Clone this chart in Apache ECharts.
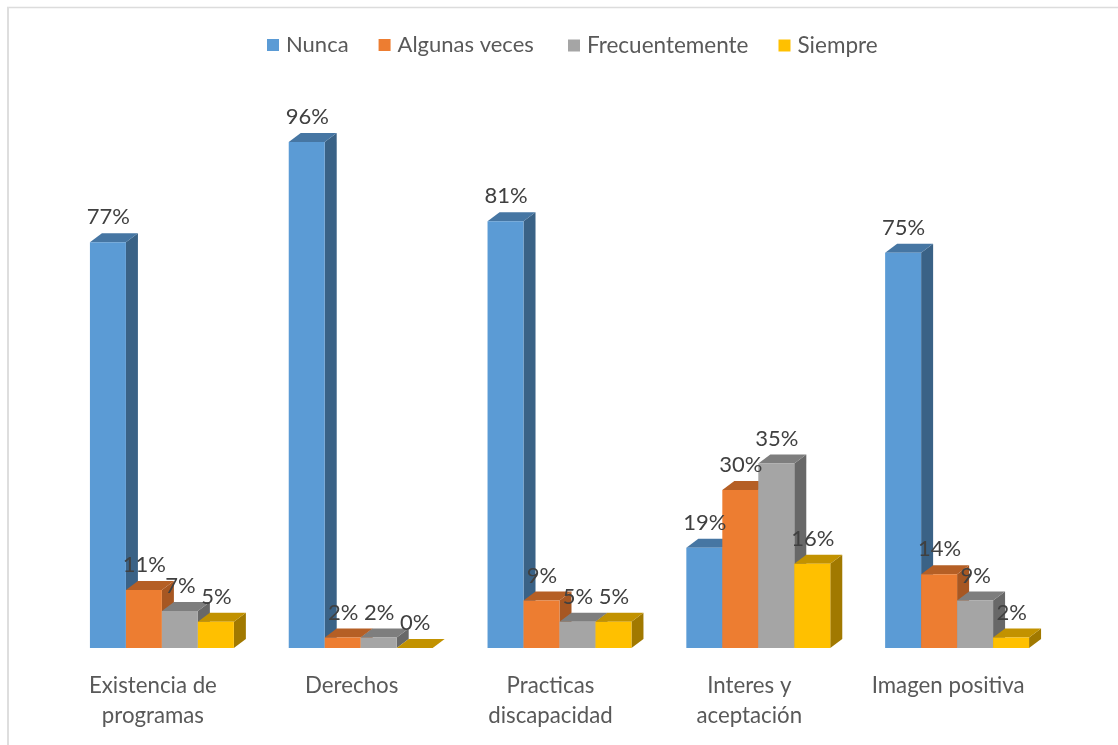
<!DOCTYPE html>
<html>
<head>
<meta charset="utf-8">
<title>Chart</title>
<style>
  html, body { margin: 0; padding: 0; background: #fff; }
  #chart { width: 1118px; height: 745px; }
</style>
<script src="https://cdn.jsdelivr.net/npm/echarts@6/dist/echarts.min.js"></script>
</head>
<body>
<div id="chart"></div>
<script>
// datos
const categories = ['Existencia de\nprogramas', 'Derechos', 'Practicas\ndiscapacidad', 'Interes y\naceptación', 'Imagen positiva']
const nunca = [77, 96, 81, 19, 75]
const algunasVeces = [11, 2, 9, 30, 14]
const frecuentemente = [7, 2, 5, 35, 9]
const siempre = [5, 0, 5, 16, 2]

const seriesNames = ['Nunca', 'Algunas veces', 'Frecuentemente', 'Siempre']
const seriesValues = [nunca, algunasVeces, frecuentemente, siempre]
// frente, tapa, lateral
const frontColors = ['#5B9BD5', '#ED7D31', '#A5A5A5', '#FFC000']
const topColors = ['#4676A3', '#B55F25', '#7E7E7E', '#C29200']
const sideColors = ['#3A6286', '#A75722', '#686868', '#A17900']

const FONT = 'Lato'
const DEPTH_X = 12
const DEPTH_Y = 9

// posicion de la barra dentro de la banda de la categoria
function barBox(api, seriesIndex) {
  const band = api.size([1, 0])[0]
  const barWidth = band * 0.181
  const base = api.coord([api.value(0), 0])
  const top = api.coord([api.value(0), api.value(1)])
  // el grupo va corrido 9px a la derecha de la etiqueta
  const left = base[0] - barWidth * 2 + 9 + barWidth * seriesIndex
  return { left, right: left + barWidth, width: barWidth, top: top[1], base: base[1] }
}

function renderBar(seriesIndex) {
  return function (params, api) {
    const b = barBox(api, seriesIndex)
    return {
      type: 'group',
      children: [
        {
          type: 'polygon',
          shape: { points: [[b.right, b.top], [b.right + DEPTH_X, b.top - DEPTH_Y], [b.right + DEPTH_X, b.base - DEPTH_Y], [b.right, b.base]] },
          style: { fill: sideColors[seriesIndex] }
        },
        {
          type: 'polygon',
          shape: { points: [[b.left, b.top], [b.left + DEPTH_X, b.top - DEPTH_Y], [b.right + DEPTH_X, b.top - DEPTH_Y], [b.right, b.top]] },
          style: { fill: topColors[seriesIndex] }
        },
        {
          type: 'rect',
          shape: { x: b.left, y: b.top, width: b.width, height: b.base - b.top },
          style: { fill: frontColors[seriesIndex] }
        }
      ]
    }
  }
}

// etiquetas en una serie aparte para que queden encima de todas las barras
function renderLabel(seriesIndex) {
  return function (params, api) {
    const b = barBox(api, seriesIndex)
    return {
      type: 'text',
      style: {
        text: api.value(1) + '%',
        x: (b.left + b.right) / 2 + 0.5,
        y: b.top - 25,
        align: 'center',
        verticalAlign: 'middle',
        fill: '#404040',
        font: '22px ' + FONT
      }
    }
  }
}

function rows(values) {
  return values.map((v, i) => [i, v])
}

const chart = echarts.init(document.getElementById('chart'), null, { renderer: 'canvas' })

const barSeries = seriesNames.map((name, i) => ({
  name: name,
  type: 'custom',
  z: 2,
  itemStyle: { color: frontColors[i] },
  renderItem: renderBar(i),
  data: rows(seriesValues[i]),
  animation: false
}))

const labelSeries = seriesNames.map((name, i) => ({
  name: name + ' etiqueta',
  type: 'custom',
  z: 5,
  silent: true,
  renderItem: renderLabel(i),
  data: rows(seriesValues[i]),
  animation: false
}))

// la leyenda original no tiene huecos iguales, se parte en dos
const legendBase = {
  top: 29,
  icon: 'rect',
  itemWidth: 12,
  itemHeight: 12,
  itemGap: 30
}

chart.setOption({
  animation: false,
  backgroundColor: '#fff',
  legend: [
    Object.assign({}, legendBase, {
      data: seriesNames.slice(0, 2),
      left: 262,
      textStyle: { color: '#595959', fontFamily: FONT, fontSize: 22, padding: [0, 0, 0, 2] }
    }),
    Object.assign({}, legendBase, {
      data: seriesNames.slice(2),
      left: 563,
      textStyle: { color: '#595959', fontFamily: FONT, fontSize: 22.5, padding: [0, 0, 0, 2] }
    })
  ],
  grid: { left: 53.5, width: 994, top: 121, bottom: 97 },
  xAxis: {
    type: 'category',
    data: categories,
    axisLine: { show: false },
    axisTick: { show: false },
    axisLabel: { color: '#595959', fontFamily: FONT, fontSize: 22.25, lineHeight: 30, margin: 23, interval: 0 }
  },
  yAxis: { type: 'value', min: 0, max: 100, show: false, splitLine: { show: false } },
  graphic: [
    { type: 'line', shape: { x1: 7, y1: 7.5, x2: 1118, y2: 7.5 }, style: { stroke: '#dcdcdc', lineWidth: 1.5 } },
    { type: 'line', shape: { x1: 8, y1: 7, x2: 8, y2: 745 }, style: { stroke: '#dedede', lineWidth: 2 } }
  ],
  series: barSeries.concat(labelSeries)
})
</script>
</body>
</html>
